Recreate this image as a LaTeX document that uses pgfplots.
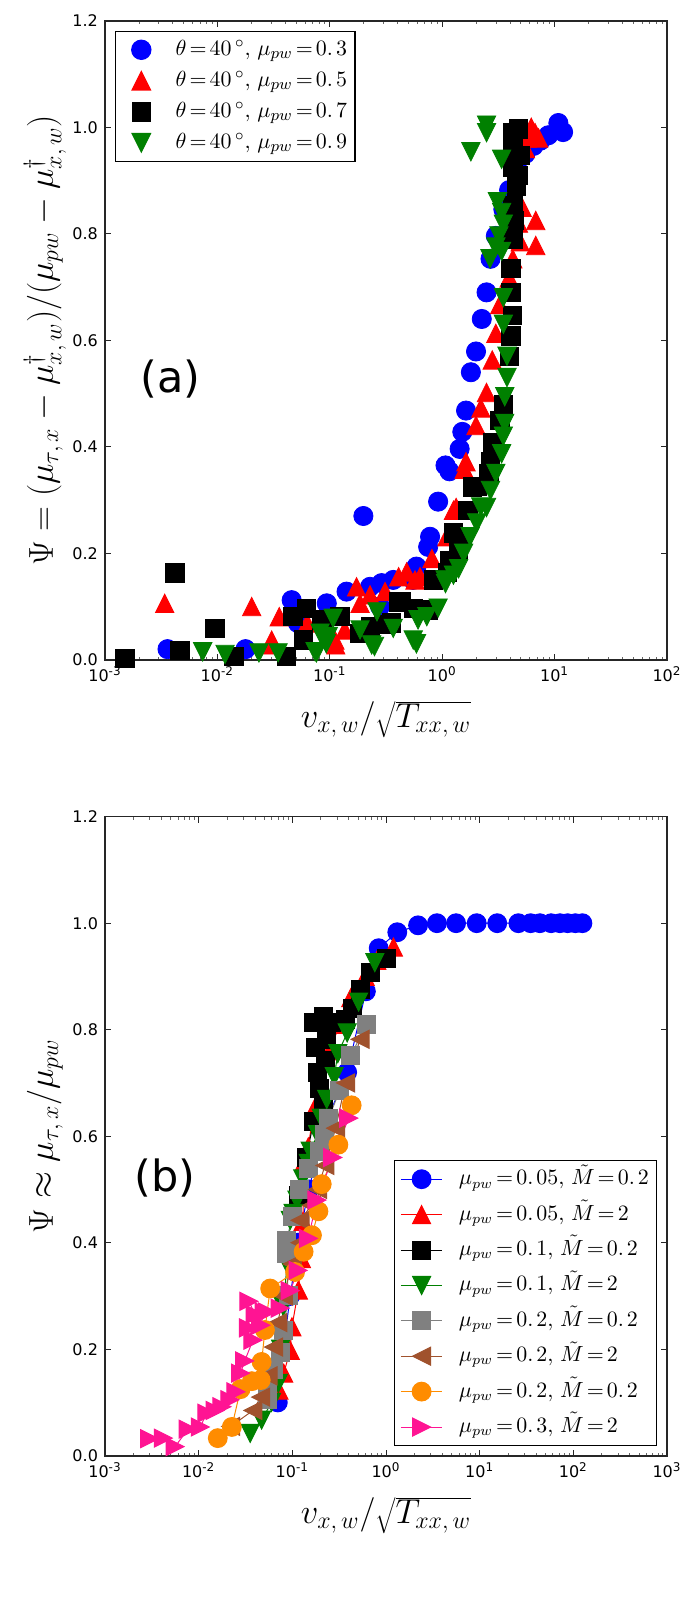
\documentclass[border=0pt]{standalone}
\usepackage{fontspec}
\usepackage{pgfplots}
\pgfplotsset{compat=1.18}
\newfontfamily\dejavu{DejaVu Sans}
\definecolor{mgreen}{rgb}{0,0.5,0}
\definecolor{mbrown}{HTML}{A0522D}
\definecolor{morange}{HTML}{FF8C00}
\definecolor{mpink}{HTML}{FF1493}
\definecolor{mgray}{HTML}{808080}
\newcommand{\tm}{\thickmuskip=2.5mu\relax}
\pgfdeclareplotmark{mtri}{%
  \pgfpathmoveto{\pgfqpoint{0pt}{\pgfplotmarksize}}%
  \pgfpathlineto{\pgfqpoint{-\pgfplotmarksize}{-\pgfplotmarksize}}%
  \pgfpathlineto{\pgfqpoint{\pgfplotmarksize}{-\pgfplotmarksize}}%
  \pgfpathclose
  \pgfusepathqfillstroke}
\pgfplotsset{
  every axis/.append style={
    scale only axis, width=281pt, height=319.5pt,
    ymin=0, ymax=1.2,
    ytick={0,0.2,0.4,0.6,0.8,1.0,1.2},
    yticklabels={0.0,0.2,0.4,0.6,0.8,1.0,1.2},
    tick align=inside, xtick pos=both, ytick pos=both,
    major tick length=3pt, minor tick length=1.5pt,
    tick style={black!85, line width=0.5pt},
    minor tick style={black!60, line width=0.3pt},
    axis line style={black!85, line width=0.8pt},
    tick label style={font=\dejavu\fontsize{8}{9}\selectfont},
    label style={font=\fontsize{17}{20}\selectfont},
    xlabel={$v_{x,\,w}/\sqrt{T_{xx,\,w}}$},
    xlabel style={at={(axis description cs:0.5,-0.093)}, anchor=center},
    ylabel style={at={(axis description cs:-0.107,0.5)}, anchor=center},
    legend cell align=left,
  },
}
\begin{document}
\begin{tikzpicture}
\useasboundingbox (0,0) rectangle (350pt,800pt);
% ---------------- panel (a)
\begin{semilogxaxis}[at={(52.5pt,470.1pt)}, anchor=south west,
  xmin=1e-3, xmax=1e2,
  xtick={1e-3,1e-2,1e-1,1,10,100},
  xticklabels={10\textsuperscript{-3},10\textsuperscript{-2},10\textsuperscript{-1},10\textsuperscript{0},10\textsuperscript{1},10\textsuperscript{2}},
  minor xtick={0.002,0.003,0.004,0.005,0.006,0.007,0.008,0.009,0.02,0.03,0.04,0.05,0.06,0.07,0.08,0.09,0.2,0.3,0.4,0.5,0.6,0.7,0.8,0.9,2,3,4,5,6,7,8,9,20,30,40,50,60,70,80,90},
  ylabel={$\Psi=(\mu_{\tau,\,x}-\mu^{\dagger}_{x,\,w})/(\mu_{pw}-\mu^{\dagger}_{x,\,w})$},
  legend image code/.code={\path[draw=none,fill=none] (0pt,0pt) -- (26pt,0pt); \draw[#1] plot coordinates {(9.85pt,0pt)};},
  legend style={at={(axis description cs:0.0178,0.9845)}, anchor=north west,
    draw=black, line width=0.6pt, font=\fontsize{10.9}{12}\selectfont,
    inner xsep=3pt, inner ysep=2.5pt,
    nodes={inner sep=1pt, text height=8.5pt, text depth=3pt}, row sep=2pt},
]
\addplot[only marks, mark=*, mark size=4.8pt, color=blue] coordinates {
(0.0036,0.020)(0.0178,0.020)(0.0458,0.112)(0.052,0.069)(0.094,0.106)(0.141,0.128)(0.199,0.270)(0.228,0.137)(0.28,0.100)(0.289,0.144)(0.367,0.150)(0.55,0.15)(0.59,0.175)(0.75,0.212)(0.78,0.231)(0.92,0.297)(1.07,0.365)(1.16,0.354)(1.43,0.396)(1.51,0.428)(1.63,0.468)(1.80,0.540)(2.00,0.579)(2.25,0.640)(2.48,0.690)(2.69,0.753)(3.0,0.796)(3.5,0.846)(3.94,0.882)(4.6,0.93)(5.5,0.95)(6.5,0.965)(7.5,0.975)(8.8,0.985)(10.8,1.008)(11.9,0.991)
};
\addlegendentry{$\tm\theta=40\,^{\circ},\;\mu_{pw}=0.\;3$}
\addplot[only marks, mark=mtri, mark size=4.6pt, color=red] coordinates {
(0.0034,0.106)(0.0202,0.100)(0.0304,0.037)(0.031,0.028)(0.0355,0.081)(0.063,0.069)(0.111,0.037)(0.113,0.028)(0.136,0.056)(0.173,0.137)(0.186,0.106)(0.228,0.122)(0.31,0.128)(0.41,0.156)(0.483,0.165)(0.573,0.15)(0.635,0.156)(0.81,0.19)(1.1,0.231)(1.26,0.281)(1.33,0.286)(1.57,0.358)(1.63,0.372)(2.0,0.44)(2.21,0.473)(2.48,0.502)(2.79,0.563)(3.0,0.613)(3.25,0.667)(3.94,0.717)(4.25,0.753)(4.94,0.785)(4.77,0.82)(5.14,0.85)(6.8,0.825)(6.8,0.778)(5.5,0.96)(5.7,0.98)(6.2,1.0)(6.7,0.99)(7.2,0.98)
};
\addlegendentry{$\tm\theta=40\,^{\circ},\;\mu_{pw}=0.\;5$}
\addplot[only marks, mark=square*, mark size=4.6pt, color=black] coordinates {
(0.0015,0.003)(0.0042,0.163)(0.00465,0.018)(0.0095,0.059)(0.014,0.006)(0.041,0.006)(0.058,0.037)(0.047,0.081)(0.062,0.097)(0.085,0.075)(0.123,0.081)(0.186,0.05)(0.229,0.062)(0.30,0.067)(0.355,0.069)(0.407,0.109)(0.43,0.11)(0.553,0.097)(0.75,0.094)(0.83,0.15)(1.11,0.164)(1.17,0.187)(1.4,0.207)(1.26,0.238)(1.51,0.232)(1.7,0.281)(1.86,0.325)(2.06,0.326)(2.6,0.35)(2.68,0.372)(2.79,0.408)(3.25,0.45)(3.5,0.48)(3.94,0.57)(4.1,0.608)(4.2,0.647)(4.1,0.69)(4.1,0.735)(4.25,0.79)(4.4,0.825)(4.25,0.853)(4.6,0.89)(4.77,0.91)(4.25,0.925)(4.9,0.947)(4.25,0.96)(4.25,0.99)(4.77,0.997)
};
\addlegendentry{$\tm\theta=40\,^{\circ},\;\mu_{pw}=0.\;7$}
\addplot[only marks, mark=mtri, mark size=4.6pt, color=mgreen, mark options={rotate=180}] coordinates {
(0.0074,0.015)(0.0117,0.010)(0.0234,0.013)(0.0347,0.013)(0.074,0.015)(0.076,0.013)(0.082,0.05)(0.093,0.03)(0.097,0.044)(0.107,0.078)(0.186,0.056)(0.236,0.028)(0.25,0.025)(0.263,0.09)(0.367,0.059)(0.553,0.037)(0.59,0.03)(0.61,0.075)(0.73,0.081)(0.92,0.097)(1.06,0.15)(1.07,0.143)(1.26,0.159)(1.4,0.171)(1.55,0.2)(1.77,0.231)(2.03,0.257)(2.2,0.287)(2.48,0.286)(2.69,0.318)(3.0,0.35)(3.38,0.387)(3.5,0.42)(3.6,0.444)(3.6,0.494)(3.77,0.53)(3.77,0.57)(3.5,0.63)(3.5,0.68)(2.66,0.753)(3.38,0.767)(3.0,0.775)(3.2,0.796)(3.5,0.818)(3.38,0.84)(3.1,0.86)(3.38,0.94)(1.80,0.954)(2.48,0.99)(2.48,1.004)
};
\addlegendentry{$\tm\theta=40\,^{\circ},\;\mu_{pw}=0.\;9$}
\node[font=\dejavu\fontsize{21.5}{25}\selectfont] at (axis cs:0.00384,0.527) {(a)};
\end{semilogxaxis}
% ---------------- panel (b)
\begin{semilogxaxis}[at={(52.5pt,72.15pt)}, anchor=south west,
  xmin=1e-3, xmax=1e3,
  xtick={1e-3,1e-2,1e-1,1,10,100,1000},
  xticklabels={10\textsuperscript{-3},10\textsuperscript{-2},10\textsuperscript{-1},10\textsuperscript{0},10\textsuperscript{1},10\textsuperscript{2},10\textsuperscript{3}},
  minor xtick={0.002,0.003,0.004,0.005,0.006,0.007,0.008,0.009,0.02,0.03,0.04,0.05,0.06,0.07,0.08,0.09,0.2,0.3,0.4,0.5,0.6,0.7,0.8,0.9,2,3,4,5,6,7,8,9,20,30,40,50,60,70,80,90,200,300,400,500,600,700,800,900},
  ylabel={$\Psi\approx\mu_{\tau,\,x}/\mu_{pw}$},
  legend image code/.code={\path[draw=none,fill=none] (0pt,0pt) -- (28pt,0pt); \draw[mark repeat=2,mark phase=2,#1] plot coordinates {(0pt,0pt)(10.4pt,0pt)(20.8pt,0pt)};},
  legend style={at={(axis description cs:0.983,0.015)}, anchor=south east,
    draw=black, line width=0.6pt, font=\fontsize{10.6}{12}\selectfont,
    inner xsep=3pt, inner ysep=2.5pt,
    nodes={inner sep=1pt, text height=8.5pt, text depth=3pt}, row sep=4.2pt},
]
\addplot[line width=0.5pt, mark=*, mark size=4.7pt, color=blue] coordinates {
(0.07,0.10)(0.08,0.2)(0.095,0.3)(0.115,0.4)(0.15,0.5)(0.22,0.62)(0.385,0.72)(0.61,0.872)(0.835,0.953)(1.32,0.983)(2.2,0.996)(3.5,1.0)(5.6,1.0)(9.3,1.0)(15.4,1.0)(25.9,1.0)(35,1.0)(44,1.0)(58,1.0)(72,1.0)(87,1.0)(105,1.0)(125,1.0)
};
\addlegendentry{$\tm\mu_{pw}=0.\;05,\;\tilde{M}=0.\;2$}
\addplot[line width=0.5pt, mark=mtri, mark size=4.5pt, color=red] coordinates {
(0.072,0.123)(0.081,0.155)(0.095,0.198)(0.099,0.242)(0.116,0.311)(0.125,0.37)(0.13,0.44)(0.13,0.5)(0.135,0.553)(0.148,0.58)(0.17,0.65)(0.2,0.7)(0.25,0.76)(0.32,0.81)(0.42,0.86)(0.6,0.9)(0.8,0.93)(1.2,0.955)
};
\addlegendentry{$\tm\mu_{pw}=0.\;05,\;\tilde{M}=2$}
\addplot[line width=0.5pt, mark=square*, mark size=4.5pt, color=black] coordinates {
(0.116,0.489)(0.14,0.56)(0.169,0.627)(0.213,0.669)(0.194,0.689)(0.185,0.72)(0.225,0.743)(0.177,0.766)(0.234,0.782)(0.169,0.813)(0.213,0.825)(0.265,0.813)(0.37,0.82)(0.44,0.84)(0.53,0.876)(0.68,0.908)(1.0,0.934)
};
\addlegendentry{$\tm\mu_{pw}=0.\;1,\;\tilde{M}=0.\;2$}
\addplot[line width=0.5pt, mark=mtri, mark size=4.5pt, color=mgreen, mark options={rotate=180}] coordinates {
(0.0355,0.042)(0.047,0.067)(0.06,0.1)(0.071,0.136)(0.075,0.2)(0.08,0.28)(0.088,0.36)(0.095,0.442)(0.102,0.455)(0.112,0.48)(0.129,0.52)(0.148,0.549)(0.155,0.572)(0.186,0.603)(0.203,0.634)(0.233,0.669)(0.28,0.712)(0.306,0.755)(0.385,0.794)(0.51,0.852)(0.76,0.926)
};
\addlegendentry{$\tm\mu_{pw}=0.\;1,\;\tilde{M}=2$}
\addplot[line width=0.5pt, mark=square*, mark size=4.5pt, color=mgray] coordinates {
(0.054,0.105)(0.054,0.12)(0.063,0.161)(0.074,0.193)(0.081,0.236)(0.09,0.3)(0.087,0.38)(0.087,0.405)(0.1,0.45)(0.12,0.5)(0.15,0.54)(0.194,0.572)(0.22,0.603)(0.244,0.634)(0.32,0.685)(0.42,0.751)(0.62,0.81)
};
\addlegendentry{$\tm\mu_{pw}=0.\;2,\;\tilde{M}=0.\;2$}
\addplot[line width=0.5pt, mark=mtri, mark size=4.5pt, color=mbrown, mark options={rotate=90}] coordinates {
(0.022,0.055)(0.038,0.085)(0.046,0.11)(0.055,0.15)(0.063,0.204)(0.07,0.25)(0.08,0.3)(0.1,0.36)(0.121,0.40)(0.121,0.442)(0.16,0.47)(0.186,0.50)(0.223,0.545)(0.29,0.615)(0.37,0.70)(0.53,0.782)
};
\addlegendentry{$\tm\mu_{pw}=0.\;2,\;\tilde{M}=2$}
\addplot[line width=0.5pt, mark=*, mark size=4.7pt, color=morange] coordinates {
(0.016,0.033)(0.0226,0.054)(0.028,0.125)(0.037,0.14)(0.046,0.142)(0.047,0.176)(0.051,0.236)(0.058,0.314)(0.107,0.345)(0.132,0.383)(0.162,0.414)(0.19,0.459)(0.206,0.51)(0.31,0.584)(0.43,0.658)
};
\addlegendentry{$\tm\mu_{pw}=0.\;2,\;\tilde{M}=0.\;2$}
\addplot[line width=0.5pt, mark=mtri, mark size=4.5pt, color=mpink, mark options={rotate=-90}] coordinates {
(0.003,0.032)(0.0042,0.033)(0.0056,0.017)(0.0077,0.05)(0.0104,0.054)(0.0122,0.08)(0.015,0.085)(0.0177,0.092)(0.0216,0.105)(0.025,0.12)(0.028,0.155)(0.031,0.178)(0.038,0.217)(0.034,0.24)(0.0344,0.29)(0.04,0.265)(0.046,0.245)(0.05,0.27)(0.054,0.27)(0.074,0.277)(0.095,0.31)(0.115,0.348)(0.148,0.408)(0.183,0.48)(0.27,0.56)(0.40,0.634)
};
\addlegendentry{$\tm\mu_{pw}=0.\;3,\;\tilde{M}=2$}
\node[font=\dejavu\fontsize{21.5}{25}\selectfont] at (axis cs:0.00437,0.522) {(b)};
\end{semilogxaxis}
\end{tikzpicture}
\end{document}
